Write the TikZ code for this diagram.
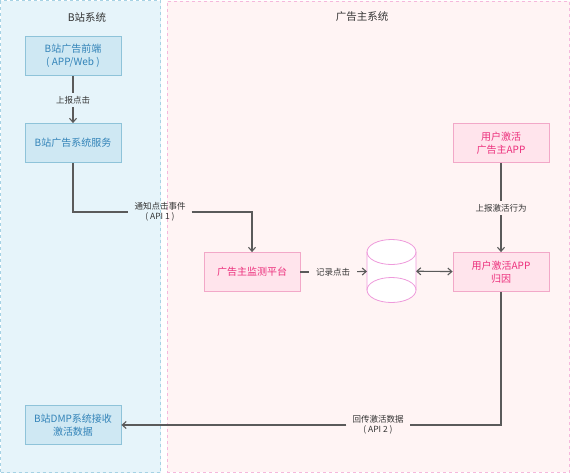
\documentclass[tikz,border=0pt]{standalone}
\usepackage{fontspec}
\setmainfont{Noto Sans CJK SC}
\usetikzlibrary{arrows.meta}

\definecolor{bpanelfill}{HTML}{E6F4FA}
\definecolor{bpaneldraw}{HTML}{A6D2E4}
\definecolor{bboxfill}{HTML}{CFE8F3}
\definecolor{bboxdraw}{HTML}{8EC3D9}
\definecolor{bboxtext}{HTML}{3283B8}
\definecolor{adpanelfill}{HTML}{FFF4F4}
\definecolor{adpaneldraw}{HTML}{F5B8DC}
\definecolor{adboxfill}{HTML}{FFE4EC}
\definecolor{adboxdraw}{HTML}{F2A8C8}
\definecolor{adboxtext}{HTML}{EC2F7C}
\definecolor{dbdraw}{HTML}{EE9ADB}
\definecolor{linegray}{HTML}{5A5A5A}
\definecolor{labelgray}{HTML}{333333}

\begin{document}
\begin{tikzpicture}[
    x=1pt, y=-1pt,
    >={Straight Barb[length=4pt,width=7pt]},
    panel/.style={
        rectangle,
        dashed,
        line width=.6pt,
        inner sep=0pt,
        },
    bbox/.style={
        rectangle,
        draw=bboxdraw,
        fill=bboxfill,
        line width=.8pt,
        minimum width=96pt,
        minimum height=39pt,
        align=center,
        text=bboxtext,
        font=\fontsize{10}{12.5}\selectfont,
        },
    adbox/.style={
        bbox,
        draw=adboxdraw,
        fill=adboxfill,
        text=adboxtext,
        },
    title/.style={
        text=labelgray,
        font=\fontsize{10.5}{12}\selectfont
        },
    mylabel/.style={
        text=labelgray,
        align=center,
        inner xsep=6pt,
        inner ysep=3pt,
        font=\fontsize{8.5}{10.5}\selectfont
        },
    ArrowG/.style={
        draw=linegray,
        line width=1.1pt,
        },
    dbline/.style={
        draw=dbdraw,
        line width=.8pt,
        },
    ]

    \useasboundingbox (0,0) rectangle (570,474);

    \node [panel, draw=bpaneldraw, fill=bpanelfill, minimum width=160pt, minimum height=472pt] (bpanel) at (80.5,236.5) {};
    \node [panel, draw=adpaneldraw, fill=adpanelfill, minimum width=402.5pt, minimum height=471pt] (adpanel) at (368.25,236.5) {};

    \node [title] (btitle) at (87,17) {B站系统};
    \node [title] (adtitle) at (362,17) {广告主系统};

    \node [bbox] (front) at (73,56) {B站广告前端\\( APP/Web )};
    \node [bbox] (service) at (73,143) {B站广告系统服务};
    \node [bbox] (dmp) at (73,425) {B站DMP系统接收\\激活数据};

    \node [adbox] (mon) at (252,272) {广告主监测平台};
    \node [adbox] (adapp) at (501,143) {用户激活\\广告主APP};
    \node [adbox] (attr) at (501,272) {用户激活APP\\归因};

    \node [inner sep=0pt, outer sep=0pt, minimum width=49pt, minimum height=63pt] (db) at (391.5,271) {};
    \draw [dbline, fill=white] ([yshift=-12.5pt]db.north west) arc[start angle=180, end angle=0, x radius=24.5pt, y radius=12.5pt]
        -- ([yshift=12.5pt]db.south east) arc[start angle=0, end angle=-180, x radius=24.5pt, y radius=12.5pt] -- cycle;
    \draw [dbline] ([yshift=-12.5pt]db.north west) arc[start angle=180, end angle=360, x radius=24.5pt, y radius=12.5pt];
    \draw [dbline] ([yshift=12.5pt]db.south west) arc[start angle=180, end angle=0, x radius=24.5pt, y radius=12.5pt];

    \node [mylabel] (lblclick) at (73,100) {上报点击};
    \node [mylabel] (lblapi1) at (160,212) {通知点击事件\\( API 1 )};
    \node [mylabel, inner xsep=7pt] (lblrecord) at (333,272) {记录点击};
    \node [mylabel] (lblactive) at (501,208) {上报激活行为};
    \node [mylabel] (lblapi2) at (378,425) {回传激活数据\\( API 2 )};

    \draw [ArrowG] (front) -- (lblclick);
    \draw [->, ArrowG] (lblclick) -- (service);

    \draw [ArrowG] (service) |- (lblapi1.west);
    \draw [->, ArrowG] (lblapi1.east) -| (mon);

    \draw [ArrowG] (mon) -- (lblrecord);
    \draw [->, ArrowG] (lblrecord) -- (db);
    \draw [<->, ArrowG] (db) -- (attr);

    \draw [ArrowG] (adapp) -- (lblactive);
    \draw [->, ArrowG] (lblactive) -- (attr);

    \draw [ArrowG] (attr) |- (lblapi2.east);
    \draw [->, ArrowG] (lblapi2.west) -- (dmp);

\end{tikzpicture}
\end{document}
